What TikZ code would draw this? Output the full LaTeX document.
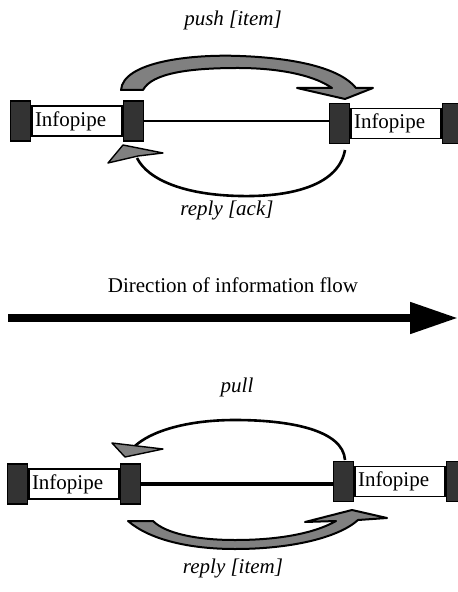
\documentclass[tikz,border=0pt]{standalone}
\usepackage{fontspec}
\setmainfont{Liberation Serif}
\usetikzlibrary{positioning,arrows.meta}

\begin{document}
\begin{tikzpicture}[x=0.5pt,y=-0.5pt,node distance=0pt,
	every node/.style={font=\fontsize{10.5}{12}\selectfont},
	msg/.style={font=\fontsize{10.5}{12}\selectfont\itshape},
	pipebody/.style={draw,fill=white,line width=0.6pt,text width=42pt,align=left,minimum height=15pt,inner ysep=0pt,inner xsep=1.5pt},
	pipeend/.style={draw,fill=black!80,line width=0.8pt,minimum width=10pt,minimum height=20pt,inner sep=0pt},
	band/.style={draw,fill=gray,line width=1pt,line join=round},
	wire/.style={line width=1.3pt},
	tiphead/.style={draw,fill=gray,line width=0.7pt,line join=round}]
	\useasboundingbox (0,0) rectangle (458,592);

	% push
	\node[msg] (push) at (233,20) {push [item]};
	\node[pipebody] (tl) at (77,121) {Infopipe};
	\node[pipeend,left=of tl] (tll) {};
	\node[pipeend,right=of tl] (tlr) {};
	\node[pipebody] (tr) at (396,123.5) {Infopipe};
	\node[pipeend,left=of tr] (trl) {};
	\node[pipeend,right=of tr] (trr) {};
	\draw[line width=1pt] (tlr.east) -- (tlr.east -| trl.west);
	\path[band] (121,90) .. controls (123,62) and (190,54) .. (240,56)
		.. controls (295,58) and (340,68) .. (356,88) -- (373,88) -- (345,99) -- (297,88) -- (332,88)
		.. controls (312,74) and (275,68) .. (238,68) .. controls (190,68) and (152,73) .. (143,90) -- cycle;
	\coordinate (ackfrom) at (345,150);
	\coordinate (ackto) at (137,158);
	\draw[wire] (ackfrom) .. controls (338,188) and (285,197) .. (240,196) .. controls (185,195) and (148,180) .. (ackto);
	\path[tiphead] (108,163) -- (123,145) -- (163,153) -- (138,156) -- cycle;
	\node[msg] (ack) at (227,210) {reply [ack]};

	% flow
	\node (flow) at (233,285) {Direction of information flow};
	\coordinate (flowa) at (8,318);
	\coordinate (flowb) at (458,318);
	\draw[line width=4pt,-{Triangle[length=24pt,width=15pt]}] (flowa) -- (flowb);

	% pull
	\node[msg] (pull) at (237,387) {pull};
	\node[pipebody] (bl) at (74,484) {Infopipe};
	\node[pipeend,left=of bl] (bll) {};
	\node[pipeend,right=of bl] (blr) {};
	\node[pipebody] (br) at (400,481.5) {Infopipe};
	\node[pipeend,left=of br] (brl) {};
	\node[pipeend,right=of br] (brr) {};
	\draw[line width=2pt] (blr.east) -- (blr.east -| brl.west);
	\coordinate (pullfrom) at (345,460);
	\coordinate (pullto) at (135,446);
	\draw[wire] (pullfrom) .. controls (343,430) and (290,420) .. (235,420) .. controls (185,420) and (150,432) .. (pullto);
	\path[tiphead] (112,443) -- (163,449) -- (125,457) -- cycle;
	\path[band] (128,521) .. controls (150,540) and (190,549) .. (235,549)
		.. controls (290,549) and (338,538) .. (358,520) -- (387,518) -- (352,510) -- (305,522) -- (336,521)
		.. controls (315,533) and (280,540) .. (235,540) .. controls (195,540) and (165,533) .. (153,521) -- cycle;
	\node[msg] (item) at (233,568) {reply [item]};
\end{tikzpicture}
\end{document}
